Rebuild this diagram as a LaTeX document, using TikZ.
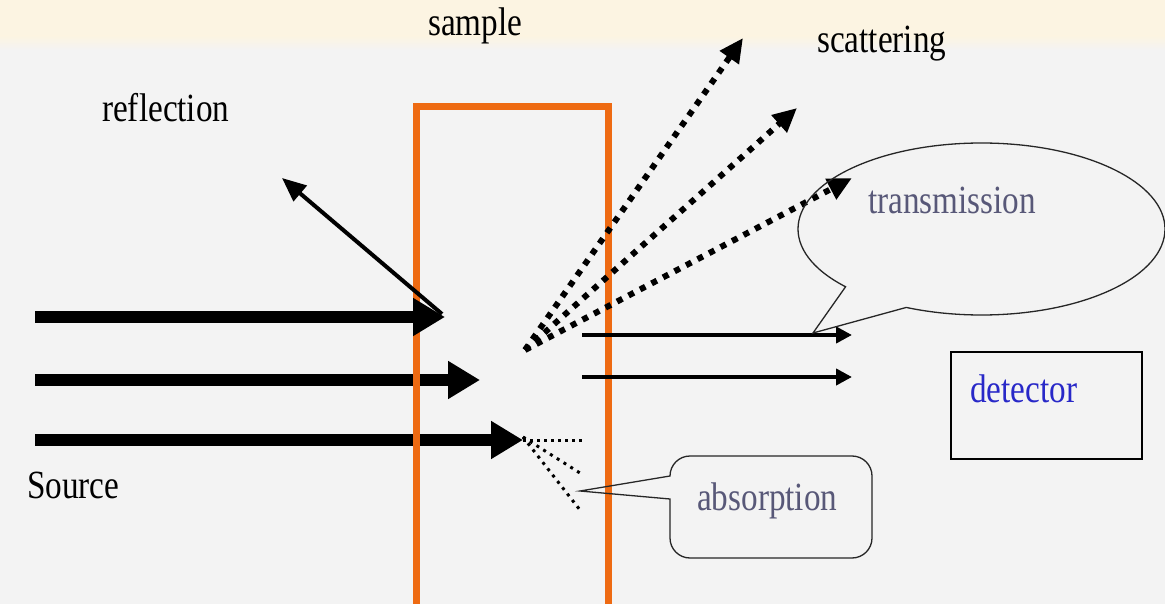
\documentclass[tikz,border=0pt]{standalone}
\usepackage{fontspec}
\setmainfont[FakeStretch=0.83]{Liberation Serif}
\usetikzlibrary{arrows.meta}
\definecolor{orng}{RGB}{238,106,18}
\definecolor{bg}{RGB}{243,243,243}
\definecolor{cream}{RGB}{252,244,226}
\definecolor{callouttext}{RGB}{88,88,120}
\definecolor{detblue}{RGB}{40,40,200}
\begin{document}
\begin{tikzpicture}[x=1pt,y=-1pt,
  lbl/.style={font=\fontsize{40}{40}\selectfont, inner sep=0pt, anchor=base west},
  beam/.style={line width=12pt, -{Triangle[length=32pt,width=36pt]}},
  scat/.style={line width=6pt, dash pattern=on 6pt off 7pt, -{Triangle[length=24pt,width=22pt]}},
  trans/.style={line width=4pt, -{Triangle[length=16pt,width=16pt]}},
  refl/.style={line width=4pt, -{Triangle[length=24pt,width=20pt]}},
  absl/.style={line width=3pt, dash pattern=on 3pt off 4pt},
  callout/.style={draw=black!85, line width=1.3pt},
  samplebox/.style={draw=orng, line width=7pt}]
\useasboundingbox (0,0) rectangle (1165,604);
% background
\fill[bg] (0,0) rectangle (1165,604);
\fill[cream] (0,0) rectangle (1165,36);
\shade[top color=cream, bottom color=bg] (0,36) rectangle (1165,50);
% coordinates
\coordinate (b1s) at (35,317);  \coordinate (b1e) at (445,317);
\coordinate (b2s) at (35,380);  \coordinate (b2e) at (480,380);
\coordinate (b3s) at (35,440);  \coordinate (b3e) at (523,440);
\coordinate (rs) at (442,314);  \coordinate (re) at (282,178);
\coordinate (so) at (525,350);
\coordinate (s1) at (743,38);   \coordinate (s2) at (797,108);  \coordinate (s3) at (852,178);
\coordinate (t1s) at (582,335); \coordinate (t1e) at (852,335);
\coordinate (t2s) at (582,377); \coordinate (t2e) at (852,377);
\coordinate (a0) at (523,440);  \coordinate (a1) at (582,440);
\coordinate (a2) at (580,473);  \coordinate (a3) at (580,510);
\coordinate (ttip) at (813,333);
\coordinate (ecen) at (981.5,229);
\path (ecen) ++(137.8:183.5 and 86) coordinate (ea);
\coordinate (atip) at (580,491);
% beams
\draw[beam] (b2s) -- (b2e);
\draw[beam] (b3s) -- (b3e);
% sample
\draw[samplebox] (416,107) rectangle (608,625);
\draw[beam] (b1s) -- (b1e);
\draw[refl] (rs) -- (re);
% scattering
\draw[scat] (so) -- (s1);
\draw[scat] (so) -- (s2);
\draw[scat] (so) -- (s3);
% transmission
\draw[trans] (t1s) -- (t1e);
\draw[trans] (t2s) -- (t2e);
% absorption
\draw[absl] (a0) -- (a1);
\draw[absl, dash pattern=on 3pt off 5pt] ([yshift=3pt]a0) -- (a2);
\draw[absl, dash pattern=on 3pt off 5pt] ([yshift=3pt]a0) -- (a3);
% callouts
\draw[callout] (ttip) -- (ea) arc[start angle=137.8, end angle=474.2, x radius=183.5, y radius=86] -- cycle;
\draw[callout] (atip) -- (670,499) -- (670,538) arc[start angle=180, end angle=90, radius=20]
  -- (852,558) arc[start angle=90, end angle=0, radius=20]
  -- (872,476) arc[start angle=0, end angle=-90, radius=20]
  -- (690,456) arc[start angle=-90, end angle=-180, radius=20] -- cycle;
% detector
\node[draw, line width=2pt, minimum width=191pt, minimum height=107pt, anchor=north west, inner sep=0pt] (detector) at (950,351) {};
% labels
\node[lbl] (sample) at (428,36) {sample};
\node[lbl] (scattering) at (817,53) {scattering};
\node[lbl] (reflection) at (102,122) {reflection};
\node[lbl] (source) at (27,498) {Source};
\node[lbl, text=callouttext] (transmission) at (868,214) {transmission};
\node[lbl, text=detblue] (detectorlbl) at (970,402) {detector};
\node[lbl, text=callouttext] (absorption) at (697,510) {absorption};
\end{tikzpicture}
\end{document}
